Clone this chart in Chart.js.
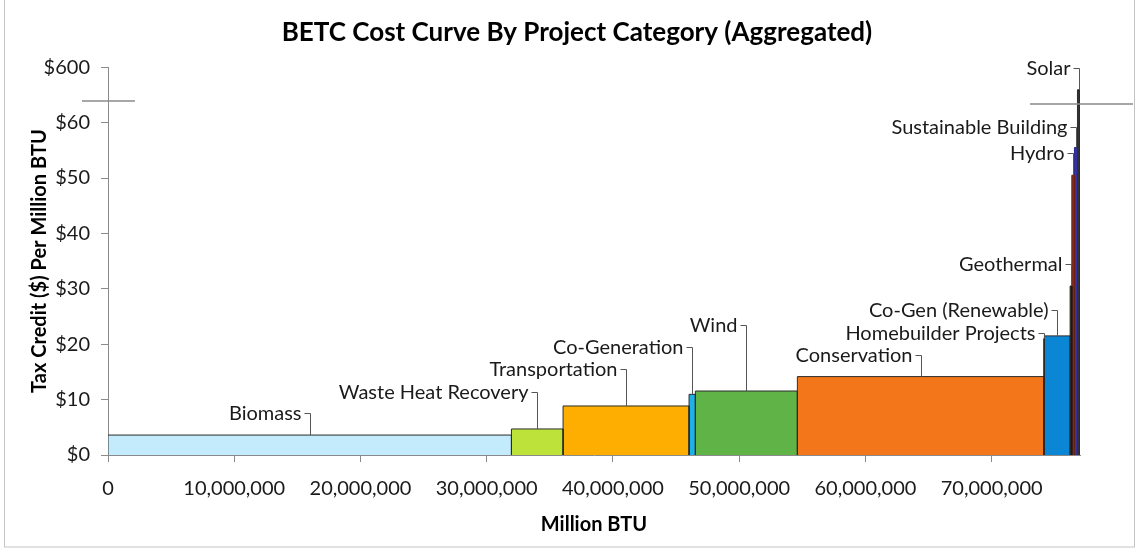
<!DOCTYPE html>
<html>
<head>
<meta charset="utf-8">
<title>BETC Cost Curve</title>
<script src="https://cdn.jsdelivr.net/npm/chart.js@4.4.1/dist/chart.umd.min.js"></script>
<style>
  html, body { margin: 0; padding: 0; background: #fff; }
  #wrap { width: 1138px; height: 550px; position: relative; }
</style>
</head>
<body>
<div id="wrap"><canvas id="costcurve"></canvas></div>
<script>
// project categories, cheapest first
var categories = ["Biomass", "Waste Heat Recovery", "Transportation", "Co-Generation", "Wind",
  "Conservation", "Homebuilder Projects", "Co-Gen (Renewable)", "Geothermal", "Hydro",
  "Sustainable Building", "Solar"];
// energy saved/produced per category (million BTU) -> bar widths
var energyBtu = [31960000, 4090000, 9980000, 500000, 8080000, 19520000, 50000, 2040000,
  130000, 210000, 240000, 200000];
// tax credit per million BTU -> bar heights
var creditPerBtu = [3.6, 4.7, 8.85, 10.95, 11.55, 14.15, 21.0, 21.5, 30.5, 50.5, 55.5, 380];
var xTicks = [0, 10000000, 20000000, 30000000, 40000000, 50000000, 60000000, 70000000];
// y axis is broken above $60; the top tick stands for $600
var yTicks = [0, 10, 20, 30, 40, 50, 60, 600];

var barColors = ["#c3ebfb", "#bde23a", "#fdae00", "#1eb1e7", "#60b347", "#f3761b",
  "#9fd0ef", "#0b86d5", "#2a2618", "#8a2c22", "#3434a6", "#333333"];
var edgeColors = ["#2b2b2b", "#2b2b2b", "#2b2b2b", "#2b2b2b", "#2b2b2b", "#2b2b2b",
  "#2b2b2b", "#2b2b2b", "#1a1a10", "#6a2018", "#26268a", "#2a2a2a"];
// how far above the bar top each label sits (px)
var labelLift = [22, 37, 37, 47, 66, 22, 6, 26, 22, 22, 21, 22];

var AXIS_BREAK = 60;
function toAxis(v) { return v <= AXIS_BREAK ? v : AXIS_BREAK + (v - AXIS_BREAK) * 10 / (600 - AXIS_BREAK); }

var FONT = "Lato, 'Open Sans', sans-serif";

// one closed step polygon per category
var datasets = [];
var start = 0;
categories.forEach(function (name, i) {
  var end = start + energyBtu[i];
  var h = toAxis(creditPerBtu[i]);
  datasets.push({
    label: name,
    data: [{x: start, y: 0}, {x: start, y: h}, {x: end, y: h}, {x: end, y: 0}],
    fill: 'origin',
    backgroundColor: barColors[i],
    borderColor: edgeColors[i],
    borderWidth: 1,
    pointRadius: 0,
    tension: 0
  });
  start = end;
});
var totalBtu = start;

var chartFrame = {
  id: 'chartFrame',
  beforeDraw: function (chart) {
    var c = chart.ctx;
    c.save();
    c.fillStyle = '#fff';
    c.fillRect(0, 0, chart.width, chart.height);
    c.restore();
  },
  afterDraw: function (chart) {
    var c = chart.ctx;
    c.save();
    c.strokeStyle = '#c4c4c4';
    c.lineWidth = 1;
    c.strokeRect(4.5, -1, 1130, 548);
    c.restore();
  }
};

// category labels with Excel-style leader lines to the bar tops
var leaderLabels = {
  id: 'leaderLabels',
  afterDatasetsDraw: function (chart) {
    var c = chart.ctx, xs = chart.scales.x, ys = chart.scales.y;
    c.save();
    c.font = '20px ' + FONT;
    c.fillStyle = '#1a1a1a';
    c.strokeStyle = '#555';
    c.lineWidth = 1;
    c.textAlign = 'right';
    c.textBaseline = 'middle';
    var s = 0;
    categories.forEach(function (name, i) {
      var e = s + energyBtu[i];
      var ax = Math.round((xs.getPixelForValue(s) + xs.getPixelForValue(e)) / 2) + 0.5;
      var top = ys.getPixelForValue(toAxis(creditPerBtu[i]));
      var ly = Math.round(top - labelLift[i]) + 0.5;
      c.fillText(name, ax - 9, ly);
      c.beginPath();
      c.moveTo(ax - 6, ly);
      c.lineTo(ax, ly);
      c.lineTo(ax, top);
      c.stroke();
      s = e;
    });

    // axis break marks
    c.strokeStyle = '#8a8a8a';
    c.lineWidth = 1.5;
    var yl = ys.getPixelForValue(63.9), yr = ys.getPixelForValue(63.35);
    c.beginPath();
    c.moveTo(82, yl); c.lineTo(135, yl);
    c.moveTo(1030, yr); c.lineTo(1133, yr);
    c.stroke();
    c.restore();
  }
};

new Chart(document.getElementById('costcurve'), {
  type: 'line',
  data: { datasets: datasets },
  options: {
    responsive: true,
    maintainAspectRatio: false,
    animation: false,
    events: [],
    layout: { padding: { left: 16, right: 0, top: 0, bottom: 0 } },
    plugins: {
      legend: { display: false },
      tooltip: { enabled: false },
      title: {
        display: true,
        text: 'BETC Cost Curve By Project Category (Aggregated)',
        color: '#000',
        font: { family: FONT, size: 26, weight: 'bold', lineHeight: 1.2 },
        padding: { top: 17, bottom: 19 }
      }
    },
    scales: {
      x: {
        type: 'linear',
        min: 0,
        max: totalBtu,
        afterBuildTicks: function (scale) {
          scale.ticks = xTicks.map(function (v) { return { value: v }; });
        },
        afterFit: function (scale) { scale.height = 95; },
        ticks: {
          autoSkip: false,
          color: '#1a1a1a',
          padding: 15,
          maxRotation: 0,
          font: { family: FONT, size: 20 },
          callback: function (v) { return v.toLocaleString('en-US'); }
        },
        grid: { drawOnChartArea: false, drawTicks: true, tickLength: 7, color: '#8a8a8a' },
        border: { color: '#8a8a8a' },
        title: {
          display: true,
          text: 'Million BTU',
          color: '#000',
          font: { family: FONT, size: 20, weight: 'bold', lineHeight: 1.2 },
          padding: { top: 0, bottom: 13 }
        }
      },
      y: {
        min: 0,
        max: 70,
        afterFit: function (scale) { scale.width = 92; },
        ticks: {
          stepSize: 10,
          color: '#1a1a1a',
          padding: 11,
          font: { family: FONT, size: 20 },
          callback: function (v, idx) { return '$' + yTicks[idx]; }
        },
        grid: { drawOnChartArea: false, drawTicks: true, tickLength: 7, color: '#8a8a8a' },
        border: { color: '#8a8a8a' },
        title: {
          display: true,
          text: 'Tax Credit ($) Per Million BTU',
          color: '#000',
          font: { family: FONT, size: 20, weight: 'bold', lineHeight: 1.2 },
          padding: { top: 12, bottom: 0 }
        }
      },
      // empty right-hand strip so the plot ends short of the frame
      yRight: {
        position: 'right',
        min: 0,
        max: 70,
        afterFit: function (scale) { scale.width = 58; },
        ticks: { display: false },
        grid: { display: false },
        border: { display: false }
      }
    }
  },
  plugins: [chartFrame, leaderLabels]
});
</script>
</body>
</html>
